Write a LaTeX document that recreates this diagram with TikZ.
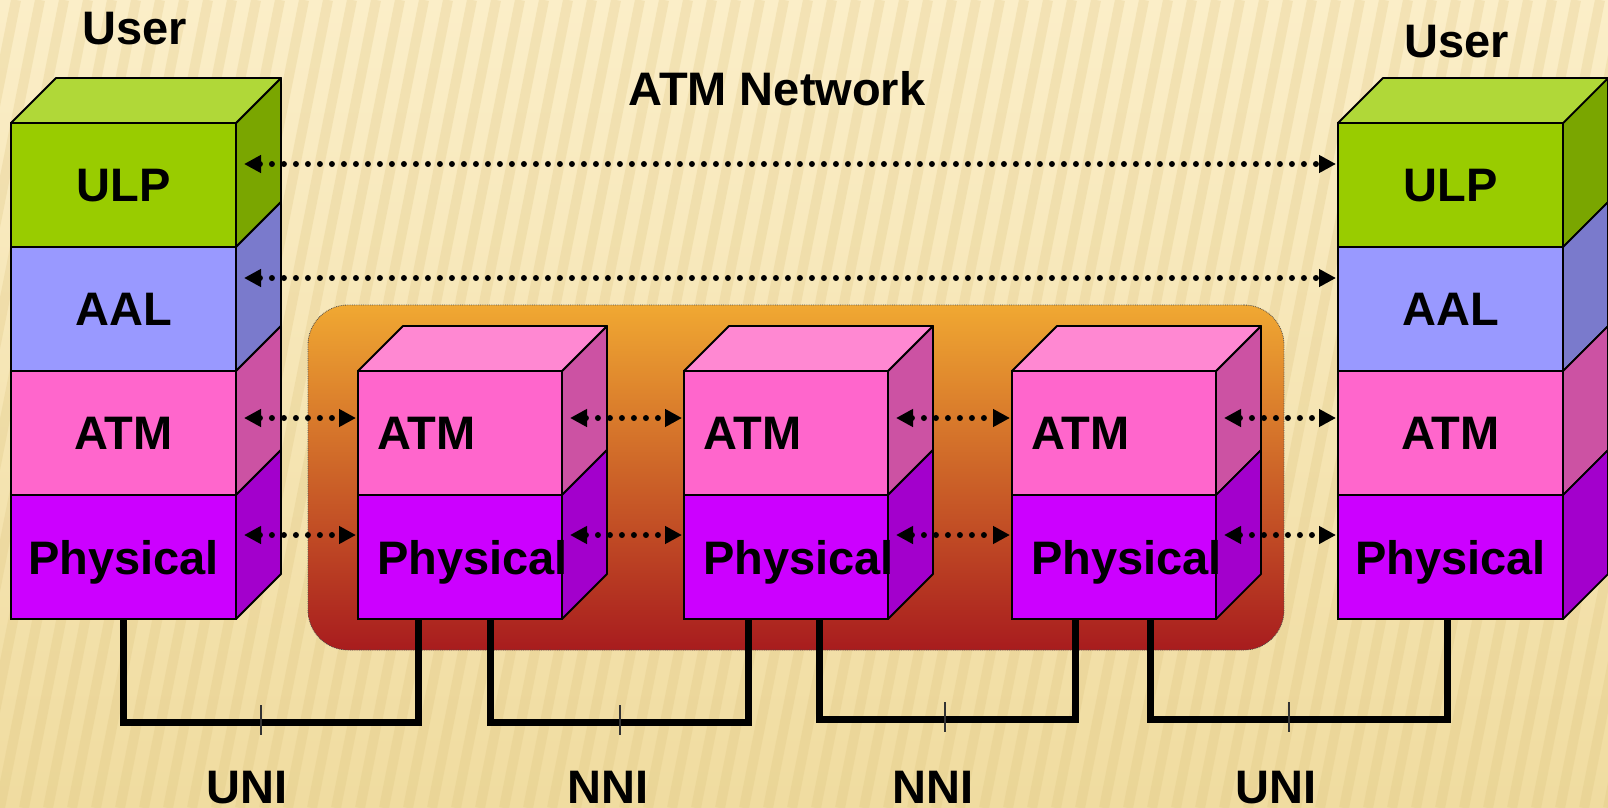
\documentclass[tikz,border=0pt]{standalone}
\usepackage{fontspec}
\setmainfont{Liberation Sans}
\usepackage{tikz}
\usetikzlibrary{arrows.meta,positioning}
\definecolor{PaperLight}{HTML}{FBEEC8}
\definecolor{PaperDark}{HTML}{F0DCA0}
\definecolor{PaperStripe}{HTML}{DCC27C}
\definecolor{NetTop}{HTML}{F0A832}
\definecolor{NetMid}{HTML}{D47A2A}
\definecolor{NetBottom}{HTML}{A81C1E}
\definecolor{UlpFront}{HTML}{99CC00}
\definecolor{UlpTop}{HTML}{B0D838}
\definecolor{UlpSide}{HTML}{7AA600}
\definecolor{AalFront}{HTML}{9999FF}
\definecolor{AalSide}{HTML}{7A7ACC}
\definecolor{AtmFront}{HTML}{FF66CC}
\definecolor{AtmTop}{HTML}{FF88D2}
\definecolor{AtmSide}{HTML}{CC52A3}
\definecolor{PhyFront}{HTML}{CC00FF}
\definecolor{PhySide}{HTML}{A300CC}
\pgfdeclarelayer{paper}
\pgfdeclarelayer{faces}
\pgfsetlayers{paper,faces,main}

\begin{document}
\begin{tikzpicture}[x=1pt,y=1pt,
  layer/.style={draw,line width=1.8pt,outer sep=0pt,inner sep=0pt,minimum width=225pt,minimum height=124pt,text depth=0pt,font=\bfseries\fontsize{47}{50}\selectfont},
  midlayer/.style={layer,minimum width=204pt,text width=166pt,inner xsep=19pt,align=left},
  face/.style={draw,line width=1.8pt,line join=round},
  title/.style={font=\bfseries\fontsize{47}{50}\selectfont,anchor=base,inner sep=0pt,text depth=0pt},
  netbox/.style={draw=black!70,densely dotted,line width=0.8pt,rounded corners=40pt,minimum width=976pt,minimum height=345pt,top color=NetTop,middle color=NetMid,bottom color=NetBottom},
  stripe/.style={line width=10pt,PaperStripe,opacity=0.25},
  peer/.style={{Triangle[length=17pt,width=17pt]}-{Triangle[length=17pt,width=17pt]},line width=6pt,dash pattern=on 0pt off 12pt,line cap=round},
  wire/.style={line width=7pt},
  tick/.style={line width=1.3pt,black!80}
]
\useasboundingbox (0,0) rectangle (1608,-808);
\begin{pgfonlayer}{paper}
\fill[top color=PaperLight,bottom color=PaperDark] (0,0) rectangle (1608,-808);
\begin{scope}
\clip (0,0) rectangle (1608,-808);
\foreach \i in {-12,...,72}
  \draw[stripe] (\i*24,-808) -- ++(160,808);
\end{scope}
\node[netbox] (net) at (796,-477.5) {};
\end{pgfonlayer}

% end systems
\node[layer,fill=UlpFront,anchor=north west] (ulpL) at (11,-123) {ULP};
\node[layer,fill=AalFront,below=0pt of ulpL] (aalL) {AAL};
\node[layer,fill=AtmFront,below=0pt of aalL] (atmL) {ATM};
\node[layer,fill=PhyFront,below=0pt of atmL] (phyL) {Physical};
\node[layer,fill=UlpFront,anchor=north west] (ulpR) at (1338,-123) {ULP};
\node[layer,fill=AalFront,below=0pt of ulpR] (aalR) {AAL};
\node[layer,fill=AtmFront,below=0pt of aalR] (atmR) {ATM};
\node[layer,fill=PhyFront,below=0pt of atmR] (phyR) {Physical};

% switches
\node[midlayer,fill=AtmFront,anchor=north west] (atm1) at (358,-371) {ATM};
\node[midlayer,fill=PhyFront,below=0pt of atm1] (phy1) {Physical};
\node[midlayer,fill=AtmFront,anchor=north west] (atm2) at (684,-371) {ATM};
\node[midlayer,fill=PhyFront,below=0pt of atm2] (phy2) {Physical};
\node[midlayer,fill=AtmFront,anchor=north west] (atm3) at (1012,-371) {ATM};
\node[midlayer,fill=PhyFront,below=0pt of atm3] (phy3) {Physical};

\begin{pgfonlayer}{faces}
\foreach \n/\c in {ulpL/UlpSide,aalL/AalSide,atmL/AtmSide,phyL/PhySide,ulpR/UlpSide,aalR/AalSide,atmR/AtmSide,phyR/PhySide,atm1/AtmSide,phy1/PhySide,atm2/AtmSide,phy2/PhySide,atm3/AtmSide,phy3/PhySide}
  \draw[face,fill=\c] (\n.north east) -- ++(45,45) -- ([shift={(45,45)}]\n.south east) -- (\n.south east) -- cycle;
\foreach \n/\c in {ulpL/UlpTop,ulpR/UlpTop,atm1/AtmTop,atm2/AtmTop,atm3/AtmTop}
  \draw[face,fill=\c] (\n.north west) -- ++(45,45) -- ([shift={(45,45)}]\n.north east) -- (\n.north east) -- cycle;
\end{pgfonlayer}

\node[title] (userL) at (135,-45) {User};
\node[title] (userR) at (1457,-58) {User};
\node[title] (nettitle) at (777,-105) {ATM Network};

% peer protocols
\draw[peer] ([shift={(8,21)}]ulpL.east) -- ([shift={(-2,21)}]ulpR.west);
\draw[peer] ([shift={(8,31)}]aalL.east) -- ([shift={(-2,31)}]aalR.west);
\foreach \a/\b in {atmL/atm1,atm1/atm2,atm2/atm3,atm3/atmR}
  \draw[peer] ([shift={(8,15)}]\a.east) -- ([shift={(-2,15)}]\b.west);
\foreach \a/\b in {phyL/phy1,phy1/phy2,phy2/phy3,phy3/phyR}
  \draw[peer] ([shift={(8,22)}]\a.east) -- ([shift={(-2,22)}]\b.west);

% links
\draw[wire] (phyL.south) -- ++(0,-103) -| ([xshift=-42]phy1.south);
\draw[wire] ([xshift=30]phy1.south) -- ++(0,-103) -| ([xshift=-38]phy2.south);
\draw[wire] ([xshift=33]phy2.south) -- ++(0,-100) -| ([xshift=-39]phy3.south);
\draw[wire] ([xshift=36]phy3.south) -- ++(0,-100) -| ([xshift=-3]phyR.south);
\coordinate (t1) at (261,-720);
\coordinate (t2) at (620,-720);
\coordinate (t3) at (945,-717);
\coordinate (t4) at (1289,-717);
\foreach \t in {t1,t2,t3,t4}
  \draw[tick] ([yshift=15]\t) -- ([yshift=-15]\t);

\node[title] (uni1) at (247,-803) {UNI};
\node[title] (nni1) at (608,-803) {NNI};
\node[title] (nni2) at (933,-803) {NNI};
\node[title] (uni2) at (1276,-803) {UNI};
\end{tikzpicture}
\end{document}
